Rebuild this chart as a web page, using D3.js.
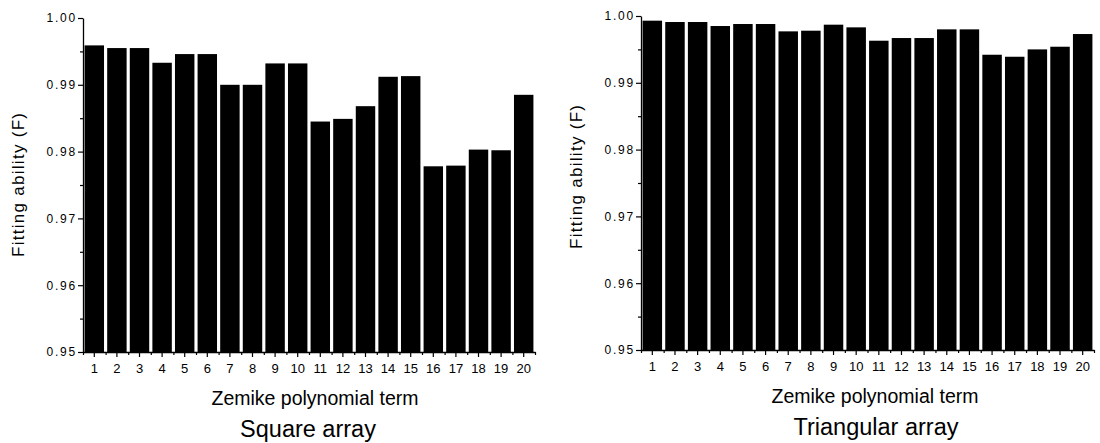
<!DOCTYPE html>
<html>
<head>
<meta charset="utf-8">
<script src="https://cdn.jsdelivr.net/npm/d3@7"></script>
<style>
  body { margin: 0; background: #fff; }
  svg { display: block; font-family: "Liberation Sans", Arial, sans-serif; }
  .domain { stroke: #000; stroke-width: 1.3; }
  .tick line { stroke: #000; stroke-width: 1.2; }
</style>
</head>
<body>
<svg id="chart" width="1100" height="443"></svg>
<script>
// Zernike terms on the x axis
const terms = d3.range(1, 21);
const yTicks = [0.95, 0.96, 0.97, 0.98, 0.99, 1.00];
const yMinor = [0.955, 0.965, 0.975, 0.985, 0.995];

// values
const squareValues = [0.9959, 0.9955, 0.9955, 0.9933, 0.9946, 0.9946, 0.9900, 0.9900, 0.9932, 0.9932,
                      0.9845, 0.9849, 0.9868, 0.9912, 0.9913, 0.9778, 0.9779, 0.9803, 0.9802, 0.9885];
const triangularValues = [0.9993, 0.9991, 0.9991, 0.9985, 0.9988, 0.9988, 0.9977, 0.9978, 0.9987, 0.9983,
                          0.9963, 0.9967, 0.9967, 0.9980, 0.9980, 0.9942, 0.9939, 0.9950, 0.9954, 0.9973];

const svg = d3.select("#chart");

function drawPanel(values, title, box) {
    let x = d3.scaleBand()
        .domain(terms)
        .range([box.left, box.right])
        .paddingInner(0.14)
        .paddingOuter(0.07);

    let y = d3.scaleLinear()
        .domain([0.95, 1.00])
        .range([box.bottom, box.top]);

    let g = svg.append("g");

    // bars
    g.selectAll("rect")
        .data(values)
        .enter().append("rect")
        .attr("x", (d, i) => x(terms[i]))
        .attr("width", x.bandwidth())
        .attr("y", d => y(d))
        .attr("height", d => y(0.95) - y(d))
        .attr("fill", "#000");

    // y axis with minor ticks
    g.append("g")
        .attr("transform", `translate(${box.left},0)`)
        .call(d3.axisLeft(y).tickValues(yMinor).tickSize(3).tickFormat(""))
        .call(a => a.select(".domain").remove());

    g.append("g")
        .attr("transform", `translate(${box.left},0)`)
        .call(d3.axisLeft(y).tickValues(yTicks).tickSize(5).tickSizeOuter(0).tickPadding(1)
            .tickFormat(d3.format(".2f")))
        .call(a => a.selectAll("text").attr("font-size", 12).attr("letter-spacing", 1.8).attr("fill", "#000"));

    // x axis: major ticks at bar centres, minor ticks between bars
    let step = x.step();
    let edges = d3.range(0, 21).map(i => x(1) - x.paddingInner() * step / 2 + i * step);
    let xEdge = d3.scaleLinear().domain([box.left, box.right]).range([box.left, box.right]);

    g.append("g")
        .attr("transform", `translate(0,${box.bottom})`)
        .call(d3.axisBottom(xEdge).tickValues(edges).tickSize(3).tickFormat(""))
        .call(a => a.select(".domain").remove());

    g.append("g")
        .attr("transform", `translate(0,${box.bottom})`)
        .call(d3.axisBottom(x).tickSize(5).tickSizeOuter(0).tickPadding(7))
        .call(a => a.selectAll("text").attr("font-size", 13).attr("fill", "#000"));

    // labels
    g.append("text")
        .attr("x", box.zx)
        .attr("y", box.bottom + 52.5)
        .attr("text-anchor", "middle")
        .attr("font-size", 19.5)
        .text("Zemike polynomial term");

    g.append("text")
        .attr("x", box.tx)
        .attr("y", box.bottom + 85)
        .attr("text-anchor", "middle")
        .attr("font-size", 23.5)
        .text(title);

    g.append("text")
        .attr("transform", `translate(${box.left - 59},${box.ly}) rotate(-90)`)
        .attr("text-anchor", "middle")
        .attr("font-size", 17)
        .attr("textLength", 144)
        .attr("lengthAdjust", "spacing")
        .text("Fitting ability (F)");
}

drawPanel(squareValues, "Square array",
    {left: 83, right: 535, top: 18, bottom: 352, zx: 315, tx: 308, ly: 185});
drawPanel(triangularValues, "Triangular array",
    {left: 641, right: 1094, top: 16, bottom: 350, zx: 875, tx: 876, ly: 177});
</script>
</body>
</html>
